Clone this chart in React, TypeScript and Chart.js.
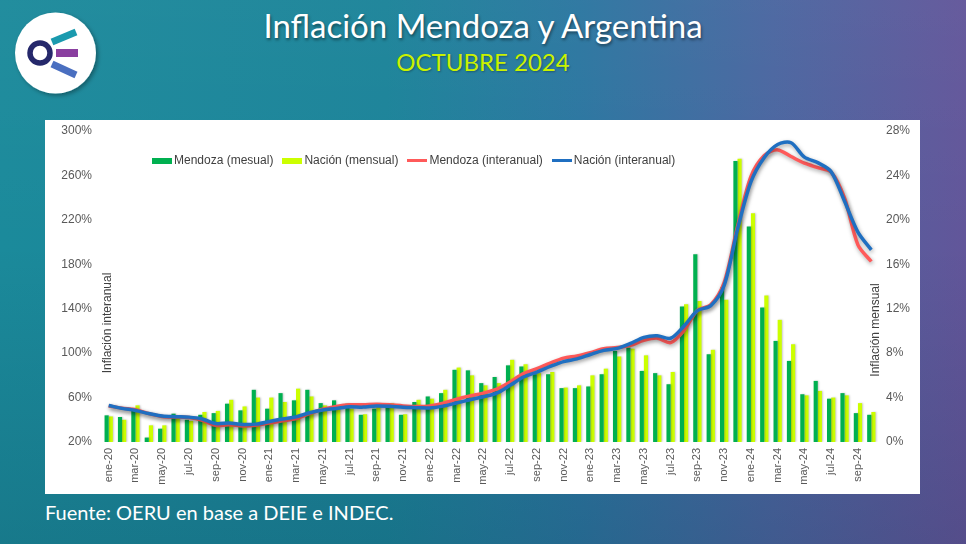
import React, { useEffect, useRef } from 'react';
import { Chart, registerables } from 'chart.js';

Chart.register(...registerables);

const months = [
  'ene-20','feb-20','mar-20','abr-20','may-20','jun-20','jul-20','ago-20','sep-20','oct-20','nov-20','dic-20',
  'ene-21','feb-21','mar-21','abr-21','may-21','jun-21','jul-21','ago-21','sep-21','oct-21','nov-21','dic-21',
  'ene-22','feb-22','mar-22','abr-22','may-22','jun-22','jul-22','ago-22','sep-22','oct-22','nov-22','dic-22',
  'ene-23','feb-23','mar-23','abr-23','may-23','jun-23','jul-23','ago-23','sep-23','oct-23','nov-23','dic-23',
  'ene-24','feb-24','mar-24','abr-24','may-24','jun-24','jul-24','ago-24','sep-24','oct-24',
];

// Inflación mensual (%), eje derecho
const mendozaMensual = [
  2.4, 2.25, 3.05, 0.4, 1.2, 2.55, 2.0, 2.45, 2.6, 3.45, 2.85, 4.7,
  3.0, 4.4, 3.75, 4.7, 3.5, 3.75, 3.45, 2.45, 3.0, 3.4, 2.45, 3.6,
  4.1, 4.4, 6.5, 6.45, 5.3, 5.85, 6.9, 6.8, 6.1, 6.1, 4.85, 4.85,
  5.0, 6.1, 8.2, 8.5, 6.4, 6.2, 5.2, 12.2, 16.9, 7.9, 13.9, 25.3,
  19.4, 12.1, 9.1, 7.3, 4.3, 5.5, 3.9, 4.4, 2.6, 2.45,
];
const nacionMensual = [
  2.3, 2.0, 3.3, 1.5, 1.5, 2.2, 1.9, 2.7, 2.8, 3.8, 3.2, 4.0,
  4.0, 3.6, 4.8, 4.1, 3.3, 3.2, 3.0, 2.5, 3.5, 3.5, 2.5, 3.8,
  3.9, 4.7, 6.7, 6.0, 5.1, 5.3, 7.4, 7.0, 6.2, 6.3, 4.9, 5.1,
  6.0, 6.6, 7.7, 8.4, 7.8, 6.0, 6.3, 12.4, 12.7, 8.3, 12.8, 25.5,
  20.6, 13.2, 11.0, 8.8, 4.2, 4.6, 4.0, 4.2, 3.5, 2.7,
];

// Inflación interanual (%), eje izquierdo
const mendozaInteranual = [
  52.5, 50.5, 49.0, 45.5, 43.0, 42.5, 42.0, 39.5, 35.0, 35.5, 34.5, 35.0,
  37.0, 39.0, 41.0, 45.5, 49.5, 52.0, 53.5, 53.5, 54.0, 53.5, 52.5, 52.0,
  52.5, 55.0, 58.5, 61.5, 64.0, 67.5, 74.0, 81.5, 86.0, 91.0, 95.5, 97.5,
  100.5, 104.0, 105.0, 107.0, 111.5, 113.5, 109.5, 120.5, 138.5, 143.5, 163.5, 214.0,
  259.0, 278.0, 283.0, 277.0, 271.0, 267.0, 263.0, 239.5, 197.5, 182.5,
];
const nacionInteranual = [
  52.9, 50.3, 48.4, 45.6, 43.4, 42.8, 42.4, 40.7, 36.6, 37.2, 35.8, 36.1,
  38.5, 40.7, 42.6, 46.3, 48.8, 50.2, 51.8, 51.4, 52.5, 52.1, 51.2, 50.9,
  50.7, 52.3, 55.1, 58.0, 60.7, 64.0, 71.0, 78.5, 83.0, 88.0, 92.4, 94.8,
  98.8, 102.5, 104.3, 108.8, 114.2, 115.6, 113.4, 124.4, 138.3, 142.7, 160.9, 211.4,
  254.2, 276.2, 287.9, 289.4, 276.4, 271.5, 263.4, 236.7, 209.0, 193.0,
];

const seriesNames = ['Mendoza (mesual)', 'Nación (mensual)', 'Mendoza (interanual)', 'Nación (interanual)'];
const seriesColors = ['#00b050', '#ccff00', '#ff5a5a', '#1f6fc1'];

const FONT = '"Liberation Sans", Arial, sans-serif';

export default function App() {
  const canvasRef = useRef<HTMLCanvasElement>(null);

  useEffect(() => {
    if (!canvasRef.current) return;

    const shadowPlugin = {
      id: 'shadows',
      beforeDatasetDraw(chart: any, args: any) {
        const ctx = chart.ctx;
        ctx.save();
        const ds = chart.data.datasets[args.index];
        if (ds.type === 'line') {
          ctx.shadowColor = 'rgba(0,0,0,0.35)';
          ctx.shadowBlur = 4;
          ctx.shadowOffsetX = 1;
          ctx.shadowOffsetY = 2;
        } else {
          ctx.shadowColor = 'rgba(0,0,0,0.22)';
          ctx.shadowBlur = 2;
          ctx.shadowOffsetX = 1;
          ctx.shadowOffsetY = 0;
        }
      },
      afterDatasetDraw(chart: any) {
        chart.ctx.restore();
      },
    };

    const axisTitles = {
      id: 'axisTitles',
      afterDraw(chart: any) {
        const { ctx, chartArea } = chart;
        ctx.save();
        ctx.font = `12px ${FONT}`;
        ctx.fillStyle = '#404040';
        ctx.textAlign = 'center';
        ctx.textBaseline = 'middle';
        ctx.translate(chartArea.left + 6, chartArea.top + 192);
        ctx.rotate(-Math.PI / 2);
        ctx.fillText('Inflación interanual', 0, 0);
        ctx.restore();

        ctx.save();
        ctx.font = `12px ${FONT}`;
        ctx.fillStyle = '#404040';
        ctx.textAlign = 'center';
        ctx.textBaseline = 'middle';
        ctx.translate(chartArea.right - 2, chartArea.top + 199);
        ctx.rotate(-Math.PI / 2);
        ctx.fillText('Inflación mensual', 0, 0);
        ctx.restore();
      },
    };

    const chart = new Chart(canvasRef.current, {
      type: 'bar',
      data: {
        labels: months,
        datasets: [
          {
            type: 'line',
            label: seriesNames[3],
            data: nacionInteranual,
            borderColor: seriesColors[3],
            backgroundColor: seriesColors[3],
            borderWidth: 3.5,
            pointRadius: 0,
            tension: 0.3,
            yAxisID: 'y',
            order: 0,
          },
          {
            type: 'line',
            label: seriesNames[2],
            data: mendozaInteranual,
            borderColor: seriesColors[2],
            backgroundColor: seriesColors[2],
            borderWidth: 3.5,
            pointRadius: 0,
            tension: 0.3,
            yAxisID: 'y',
            order: 1,
          },
          {
            type: 'bar',
            label: seriesNames[0],
            data: mendozaMensual,
            backgroundColor: seriesColors[0],
            yAxisID: 'y2',
            order: 2,
            categoryPercentage: 0.62,
            barPercentage: 1.0,
          },
          {
            type: 'bar',
            label: seriesNames[1],
            data: nacionMensual,
            backgroundColor: seriesColors[1],
            yAxisID: 'y2',
            order: 3,
            categoryPercentage: 0.62,
            barPercentage: 1.0,
          },
        ] as any,
      },
      options: {
        animation: false,
        responsive: false,
        layout: { padding: { top: 11, left: 0, right: 0, bottom: 0 } },
        plugins: {
          legend: { display: false },
          tooltip: { enabled: false },
        },
        scales: {
          x: {
            grid: { display: false, drawTicks: false },
            border: { display: false },
            ticks: {
              autoSkip: false,
              minRotation: 90,
              maxRotation: 90,
              padding: 6,
              color: '#595959',
              font: { size: 11, family: FONT },
              callback: (_v: any, i: number) => (i % 2 === 0 ? months[i] : ''),
            },
            afterFit: (s: any) => { s.height = 52; s.paddingLeft = 0; s.paddingRight = 0; },
          },
          y: {
            position: 'left',
            min: 20,
            max: 300,
            grid: { display: false, drawTicks: false },
            border: { display: false },
            ticks: {
              stepSize: 40,
              padding: 10,
              color: '#595959',
              font: { size: 12, family: FONT },
              callback: (v: any) => `${v}%`,
            },
            afterFit: (s: any) => { s.width = 57; s.paddingTop = 0; s.paddingBottom = 0; },
          },
          y2: {
            position: 'right',
            min: 0,
            max: 28,
            grid: { display: false, drawTicks: false },
            border: { display: false },
            ticks: {
              stepSize: 4,
              padding: 8,
              color: '#595959',
              font: { size: 12, family: FONT },
              callback: (v: any) => `${v}%`,
            },
            afterFit: (s: any) => { s.width = 42; s.paddingTop = 0; s.paddingBottom = 0; },
          },
        },
      } as any,
      plugins: [shadowPlugin, axisTitles],
    });

    return () => chart.destroy();
  }, []);

  const legendItems = [
    { name: seriesNames[0], color: seriesColors[0], kind: 'box' },
    { name: seriesNames[1], color: seriesColors[1], kind: 'box' },
    { name: seriesNames[2], color: seriesColors[2], kind: 'line' },
    { name: seriesNames[3], color: seriesColors[3], kind: 'line' },
  ];

  return (
    <div
      style={{
        position: 'fixed',
        left: 0,
        top: 0,
        width: 966,
        height: 544,
        overflow: 'hidden',
        background: 'linear-gradient(90deg, #1b8a9b 0%, #1b8399 40%, #2b76a0 60%, #4a66a0 80%, #62569a 100%)',
        fontFamily: 'Lato, sans-serif',
      }}
    >
      <div
        style={{
          position: 'absolute',
          inset: 0,
          background: 'linear-gradient(180deg, rgba(255,255,255,0.03) 0%, rgba(0,0,0,0) 45%, rgba(0,20,40,0.14) 100%)',
        }}
      />
      {/* Logo */}
      <svg width={100} height={100} style={{ position: 'absolute', left: 5, top: 3 }}>
        <defs>
          <filter id="sh" x="-20%" y="-20%" width="140%" height="140%">
            <feDropShadow dx="2" dy="2" stdDeviation="2" floodColor="#000" floodOpacity="0.35" />
          </filter>
        </defs>
        <circle cx={50.5} cy={50} r={40.5} fill="#ffffff" filter="url(#sh)" />
        <circle cx={35} cy={50} r={10} fill="none" stroke="#25286b" strokeWidth={5.5} />
        <line x1={47} y1={39} x2={71} y2={29} stroke="#1a9aae" strokeWidth={7} />
        <line x1={51} y1={50} x2={73} y2={50} stroke="#8a3fa0" strokeWidth={8} />
        <line x1={47} y1={61} x2={71} y2={72} stroke="#4a6fc0" strokeWidth={7} />
      </svg>
      {/* Title */}
      <div
        style={{
          position: 'absolute',
          left: 0,
          width: 966,
          top: 3,
          textAlign: 'center',
          color: '#ffffff',
          fontSize: 33,
          lineHeight: '44px',
          textShadow: '1px 2px 3px rgba(0,0,0,0.45)',
        }}
      >
        Inflación Mendoza y Argentina
      </div>
      <div
        style={{
          position: 'absolute',
          left: 0,
          width: 966,
          top: 47,
          textAlign: 'center',
          color: '#c9f200',
          fontSize: 24,
          lineHeight: '30px',
          textShadow: '1px 1px 2px rgba(0,0,0,0.3)',
        }}
      >
        OCTUBRE 2024
      </div>
      {/* Chart panel */}
      <div
        style={{
          position: 'absolute',
          left: 45,
          top: 120,
          width: 875,
          height: 374,
          background: '#ffffff',
        }}
      >
        <canvas ref={canvasRef} width={875} height={374} style={{ display: 'block' }} />
        <div
          style={{
            position: 'absolute',
            left: 107,
            top: 33,
            display: 'flex',
            alignItems: 'center',
            gap: 9,
            fontFamily: FONT,
            fontSize: 12,
            color: '#404040',
            whiteSpace: 'nowrap',
          }}
        >
          {legendItems.map((it) => (
            <div key={it.name} style={{ display: 'flex', alignItems: 'center' }}>
              <span
                style={{
                  display: 'inline-block',
                  width: 20,
                  height: it.kind === 'box' ? 6 : 3.5,
                  background: it.color,
                  marginRight: 2,
                }}
              />
              <span style={{ lineHeight: '15px' }}>{it.name}</span>
            </div>
          ))}
        </div>
      </div>
      {/* Footer */}
      <div
        style={{
          position: 'absolute',
          left: 45,
          top: 498,
          color: '#ffffff',
          fontSize: 20,
          lineHeight: '28px',
        }}
      >
        Fuente: OERU en base a DEIE e INDEC.
      </div>
    </div>
  );
}
